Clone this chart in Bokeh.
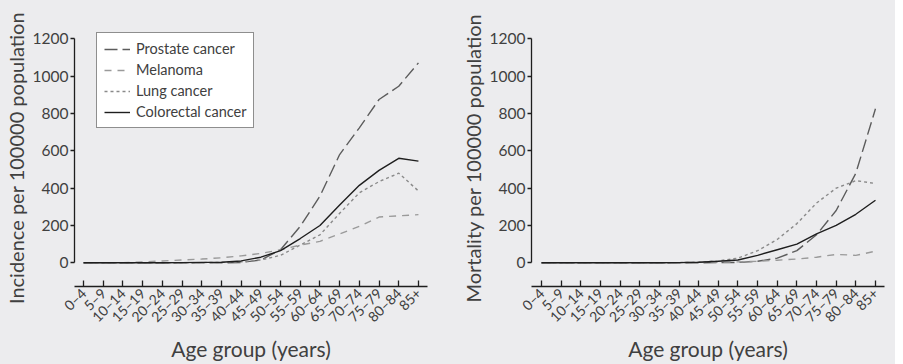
import math
from bokeh.plotting import figure
from bokeh.layouts import row
from bokeh.models import FixedTicker, Legend, LegendItem, Range1d
from bokeh.embed import file_html
from bokeh.resources import INLINE

age_groups = ["0–4", "5–9", "10–14", "15–19", "20–24", "25–29", "30–34", "35–39",
              "40–44", "45–49", "50–54", "55–59", "60–64", "65–69", "70–74",
              "75–79", "80–84", "85+"]

inc_prostate = [0, 0, 0, 0, 0, 0, 0, 0, 2, 15, 70, 195, 357, 580, 723, 875, 946, 1071]
inc_melanoma = [0, 0, 1, 4, 10, 15, 20, 27, 37, 50, 70, 95, 115, 155, 195, 245, 252, 258]
inc_lung = [0, 0, 0, 0, 0, 0, 1, 2, 5, 15, 40, 95, 150, 265, 375, 435, 480, 385]
inc_colorectal = [0, 0, 0, 0, 0, 1, 2, 3, 10, 30, 65, 130, 200, 310, 415, 495, 560, 545]

mort_prostate = [0, 0, 0, 0, 0, 0, 0, 0, 0, 1, 2, 8, 25, 65, 150, 280, 480, 825]
mort_melanoma = [0, 0, 0, 0, 0, 0, 0, 1, 2, 3, 5, 8, 14, 20, 30, 45, 40, 62]
mort_lung = [0, 0, 0, 0, 0, 0, 0, 1, 3, 10, 25, 65, 125, 210, 320, 400, 440, 425]
mort_colorectal = [0, 0, 0, 0, 0, 0, 0, 1, 3, 8, 15, 40, 70, 100, 155, 200, 260, 335]

series_names = ["Prostate cancer", "Melanoma", "Lung cancer", "Colorectal cancer"]
styles = [
    dict(line_color="#5c5c5c", line_dash="13 5", line_width=1.4),
    dict(line_color="#9a9a9a", line_dash="7 6", line_width=1.4),
    dict(line_color="#8a8a8a", line_dash="3 3", line_width=1.4),
    dict(line_color="#1e1e1e", line_width=1.4),
]

BG = "#ececee"
FONT = "Lato"
TXT = "#404040"
xs = list(range(len(age_groups)))


def make(ylabel, data, x_lo, min_left, min_right, legend=False):
    p = figure(frame_width=353, frame_height=257, output_backend="svg", toolbar_location=None,
               x_range=Range1d(x_lo, 17.46), y_range=Range1d(-127, 1250),
               min_border_left=min_left, min_border_right=min_right,
               min_border_top=29, min_border_bottom=4)
    p.background_fill_color = BG
    p.border_fill_color = BG
    p.outline_line_color = None
    p.grid.visible = False

    renderers = []
    for vals, st in zip(data, styles):
        r = p.line(xs, vals, **st)
        renderers.append(r)

    xa = p.xaxis[0]
    xa.ticker = FixedTicker(ticks=xs)
    xa.major_label_overrides = {i: s for i, s in enumerate(age_groups)}
    xa.major_label_orientation = math.pi / 4
    xa.major_tick_in = 6
    xa.major_tick_out = 0
    xa.minor_tick_line_color = None
    xa.major_label_standoff = 4
    xa.axis_label = "Age group (years)"
    xa.axis_label_standoff = 2
    xa.axis_label_text_font_style = "normal"
    xa.axis_label_text_font_size = "21px"

    ya = p.yaxis[0]
    ya.ticker = FixedTicker(ticks=[0, 200, 400, 600, 800, 1000, 1200])
    ya.bounds = (0, 1200)
    ya.major_tick_in = 0
    ya.major_tick_out = 4
    ya.minor_tick_line_color = None
    ya.major_label_standoff = 2
    ya.axis_label = ylabel
    ya.axis_label_standoff = 2
    ya.axis_label_text_font_style = "normal"
    ya.axis_label_text_font_size = "20px"

    for ax in (xa, ya):
        ax.axis_line_color = "#1e1e1e"
        ax.axis_line_width = 1.3
        ax.major_tick_line_color = "#1e1e1e"
        ax.major_tick_line_width = 1.3
        ax.major_label_text_font = FONT
        ax.major_label_text_color = TXT
        ax.axis_label_text_font = FONT
        ax.axis_label_text_color = TXT
    xa.major_label_text_font_size = "14px"
    ya.major_label_text_font_size = "15.5px"

    if legend:
        items = [LegendItem(label=n, renderers=[r]) for n, r in zip(series_names, renderers)]
        lg = Legend(items=items, location=(22, 158))
        lg.border_line_color = "#1e1e1e"
        lg.border_line_width = 1.3
        lg.background_fill_color = "white"
        lg.background_fill_alpha = 1
        lg.label_text_font = FONT
        lg.label_text_font_size = "14.5px"
        lg.label_text_color = TXT
        lg.glyph_width = 26
        lg.glyph_height = 16
        lg.label_height = 16
        lg.spacing = 4
        lg.padding = 7
        lg.margin = 0
        lg.label_standoff = 6
        p.add_layout(lg, "center")
    return p


p1 = make("Incidence per 100000 population",
          [inc_prostate, inc_melanoma, inc_lung, inc_colorectal],
          -0.46, 66, 24, legend=True)
p2 = make("Mortality per 100000 population",
          [mort_prostate, mort_melanoma, mort_lung, mort_colorectal],
          -0.51, 80, 11)

layout = row(p1, p2, spacing=0)
layout.styles = {"background-color": BG}

open("out.html", "w").write(file_html(layout, INLINE))
